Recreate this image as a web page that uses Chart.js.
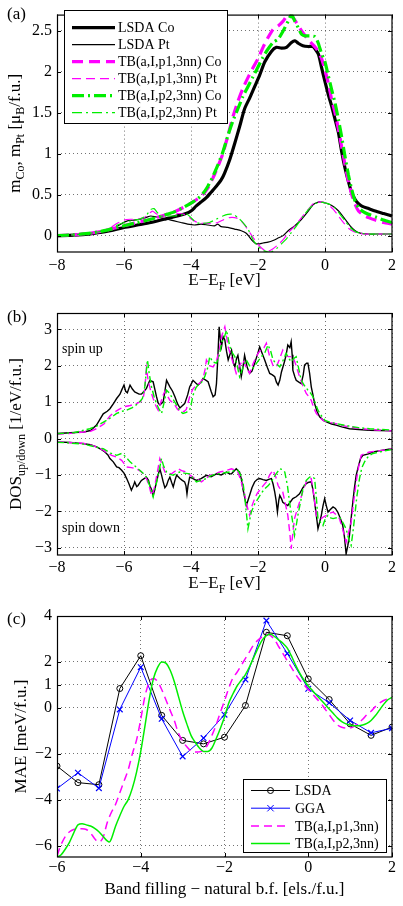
<!DOCTYPE html>
<html>
<head>
<meta charset="utf-8">
<script src="https://cdn.jsdelivr.net/npm/chart.js@4.4.1/dist/chart.umd.min.js"></script>
<style>
  body { margin: 0; background: #fff; }
  canvas { position: absolute; left: 0; }
</style>
</head>
<body>
<canvas id="momentChart" width="403" height="295" style="top:0px"></canvas>
<canvas id="dosChart" width="403" height="305" style="top:295px"></canvas>
<canvas id="maeChart" width="403" height="306" style="top:600px"></canvas>
<script>
// ---- tick labels ----
const xTicksE = [-8, -6, -4, -2, 0, 2];
const yTicksMoment = [0, 0.5, 1, 1.5, 2, 2.5];
const yTicksDos = [-3, -2, -1, 0, 1, 2, 3];
const xTicksBand = [-6, -4, -2, 0, 2];
const yTicksMae = [-6, -4, -2, 0, 1, 2, 4];

// ---- (a) magnetic moments, [E-EF, m] ----
const lsdaCo = [[-8,0],[-7.5,0.005],[-7,0.02],[-6.7,0.04],[-6.3,0.07],[-6,0.1],[-5.6,0.13],[-5.2,0.16],[-4.8,0.2],[-4.5,0.23],[-4.15,0.27],[-4,0.3],[-3.85,0.36],[-3.7,0.41],[-3.55,0.46],[-3.4,0.53],[-3.25,0.6],[-3.1,0.68],[-3,0.76],[-2.85,0.92],[-2.7,1.12],[-2.55,1.33],[-2.4,1.55],[-2.25,1.68],[-2.1,1.82],[-1.95,1.96],[-1.8,2.12],[-1.6,2.25],[-1.45,2.3],[-1.3,2.29],[-1.15,2.3],[-1,2.36],[-0.9,2.38],[-0.8,2.35],[-0.66,2.32],[-0.5,2.31],[-0.36,2.31],[-0.2,2.22],[-0.1,2.05],[0,1.88],[0.1,1.72],[0.2,1.58],[0.3,1.42],[0.4,1.26],[0.5,1.02],[0.6,0.82],[0.7,0.66],[0.8,0.52],[0.9,0.44],[1,0.39],[1.1,0.36],[1.3,0.33],[1.5,0.3],[1.75,0.27],[2,0.24]];
const lsdaPt = [[-8,0],[-7.5,0.005],[-7,0.02],[-6.7,0.04],[-6.5,0.06],[-6.3,0.09],[-6.1,0.14],[-5.9,0.18],[-5.7,0.19],[-5.5,0.2],[-5.35,0.22],[-5.2,0.24],[-5.05,0.23],[-4.9,0.22],[-4.7,0.2],[-4.5,0.18],[-4.3,0.16],[-4.1,0.14],[-3.9,0.13],[-3.7,0.14],[-3.5,0.13],[-3.3,0.12],[-3.2,0.14],[-3.1,0.11],[-2.9,0.1],[-2.7,0.08],[-2.5,0.06],[-2.35,0.03],[-2.25,-0.02],[-2.15,-0.07],[-2.05,-0.1],[-1.95,-0.1],[-1.85,-0.09],[-1.7,-0.08],[-1.55,-0.06],[-1.4,-0.03],[-1.25,0],[-1.1,0.06],[-0.9,0.12],[-0.7,0.2],[-0.5,0.3],[-0.35,0.38],[-0.2,0.41],[-0.1,0.41],[0,0.4],[0.15,0.38],[0.3,0.34],[0.45,0.28],[0.6,0.2],[0.75,0.12],[0.9,0.06],[1.05,0.03],[1.3,0.02],[1.6,0.02],[2,0.02]];
const tb1Co = [[-8,0],[-7.5,0.01],[-7,0.03],[-6.7,0.05],[-6.3,0.09],[-6,0.12],[-5.6,0.16],[-5.2,0.2],[-4.8,0.25],[-4.5,0.29],[-4.2,0.35],[-3.95,0.41],[-3.8,0.45],[-3.65,0.5],[-3.5,0.58],[-3.35,0.7],[-3.2,0.84],[-3.05,1],[-2.9,1.22],[-2.75,1.45],[-2.6,1.64],[-2.45,1.8],[-2.3,1.93],[-2.15,2.05],[-2,2.16],[-1.85,2.3],[-1.7,2.42],[-1.55,2.52],[-1.4,2.56],[-1.25,2.62],[-1.1,2.7],[-0.95,2.66],[-0.85,2.6],[-0.7,2.5],[-0.55,2.42],[-0.4,2.35],[-0.25,2.28],[-0.1,2.16],[0,2.02],[0.1,1.86],[0.2,1.66],[0.3,1.5],[0.4,1.3],[0.5,1.08],[0.6,0.86],[0.7,0.66],[0.8,0.5],[0.9,0.38],[1,0.3],[1.15,0.25],[1.3,0.22],[1.5,0.19],[1.75,0.16],[2,0.14]];
const tb1Pt = [[-8,0],[-7.5,0.01],[-7,0.03],[-6.7,0.05],[-6.4,0.1],[-6.2,0.15],[-6,0.19],[-5.8,0.2],[-5.6,0.2],[-5.4,0.22],[-5.25,0.27],[-5.15,0.3],[-5.05,0.27],[-4.95,0.25],[-4.8,0.25],[-4.6,0.26],[-4.4,0.27],[-4.2,0.26],[-4.05,0.22],[-3.9,0.18],[-3.75,0.15],[-3.6,0.15],[-3.4,0.15],[-3.2,0.16],[-3,0.2],[-2.85,0.22],[-2.7,0.22],[-2.55,0.2],[-2.4,0.13],[-2.25,0.04],[-2.1,-0.05],[-1.95,-0.13],[-1.8,-0.18],[-1.7,-0.19],[-1.55,-0.16],[-1.4,-0.11],[-1.25,-0.05],[-1.1,0.03],[-0.9,0.12],[-0.7,0.22],[-0.5,0.32],[-0.35,0.39],[-0.2,0.41],[-0.05,0.41],[0.1,0.38],[0.25,0.32],[0.4,0.24],[0.55,0.16],[0.7,0.09],[0.85,0.05],[1,0.03],[1.2,0.02],[1.5,0.02],[2,0.02]];
const tb2Co = [[-8,0],[-7.5,0.01],[-7,0.03],[-6.7,0.05],[-6.3,0.09],[-6,0.12],[-5.6,0.16],[-5.2,0.2],[-4.8,0.25],[-4.5,0.29],[-4.2,0.35],[-3.95,0.41],[-3.8,0.45],[-3.65,0.51],[-3.5,0.6],[-3.35,0.72],[-3.2,0.86],[-3.05,1.02],[-2.9,1.22],[-2.75,1.4],[-2.6,1.55],[-2.45,1.7],[-2.3,1.82],[-2.15,1.94],[-2,2.06],[-1.85,2.18],[-1.7,2.28],[-1.55,2.36],[-1.4,2.4],[-1.25,2.5],[-1.1,2.62],[-1,2.7],[-0.9,2.62],[-0.8,2.54],[-0.7,2.46],[-0.6,2.44],[-0.45,2.44],[-0.3,2.43],[-0.2,2.35],[-0.1,2.22],[0,2.12],[0.1,1.95],[0.2,1.78],[0.3,1.62],[0.4,1.42],[0.5,1.2],[0.6,0.96],[0.7,0.74],[0.8,0.56],[0.9,0.42],[1,0.34],[1.15,0.29],[1.3,0.26],[1.5,0.23],[1.75,0.19],[2,0.16]];
const tb2Pt = [[-8,0],[-7.5,0.01],[-7,0.03],[-6.7,0.05],[-6.4,0.09],[-6.2,0.13],[-6,0.16],[-5.8,0.18],[-5.55,0.2],[-5.35,0.24],[-5.2,0.32],[-5.1,0.33],[-5,0.28],[-4.9,0.24],[-4.7,0.24],[-4.5,0.24],[-4.3,0.25],[-4.15,0.27],[-4,0.22],[-3.85,0.16],[-3.65,0.15],[-3.45,0.16],[-3.25,0.2],[-3.05,0.24],[-2.9,0.26],[-2.75,0.26],[-2.6,0.22],[-2.45,0.16],[-2.3,0.08],[-2.15,-0.05],[-2,-0.13],[-1.85,-0.18],[-1.7,-0.2],[-1.6,-0.2],[-1.45,-0.16],[-1.3,-0.1],[-1.15,-0.04],[-1,0.04],[-0.85,0.12],[-0.65,0.24],[-0.45,0.34],[-0.3,0.39],[-0.15,0.41],[0,0.4],[0.15,0.38],[0.3,0.34],[0.45,0.26],[0.6,0.18],[0.75,0.1],[0.9,0.05],[1.05,0.03],[1.3,0.02],[1.6,0.02],[2,0.02]];

// ---- (b) DOS, [E-EF, DOS] ----
const upLsda = [[-8,0.14],[-7.6,0.16],[-7.2,0.18],[-7,0.22],[-6.82,0.37],[-6.62,0.68],[-6.5,0.75],[-6.42,0.82],[-6.3,0.98],[-6.22,1.1],[-6.12,1.22],[-6.07,1.33],[-6,1.47],[-5.95,1.3],[-5.9,1.26],[-5.82,1.47],[-5.75,1.36],[-5.68,1.28],[-5.55,1.22],[-5.48,1.22],[-5.4,1.3],[-5.33,1.38],[-5.23,1.6],[-5.13,1.56],[-5.03,1.15],[-4.98,0.98],[-4.93,0.92],[-4.83,1.01],[-4.78,1.3],[-4.73,1.6],[-4.63,1.42],[-4.55,1.3],[-4.48,1.15],[-4.4,0.95],[-4.33,0.84],[-4.19,0.96],[-4.1,1.2],[-4.04,1.42],[-3.94,1.6],[-3.85,1.52],[-3.79,1.47],[-3.7,1.55],[-3.64,1.65],[-3.55,1.6],[-3.49,1.56],[-3.4,1.3],[-3.34,1.15],[-3.28,1.2],[-3.24,1.51],[-3.2,2.2],[-3.16,3.07],[-3.12,2.7],[-3.09,2.52],[-3.04,2.8],[-2.99,2.71],[-2.94,2.4],[-2.89,2.16],[-2.84,2.3],[-2.79,2.43],[-2.74,2.1],[-2.69,1.97],[-2.64,2.2],[-2.6,2.29],[-2.55,2],[-2.5,1.7],[-2.45,1.95],[-2.4,2.29],[-2.32,1.95],[-2.25,1.79],[-2.18,1.85],[-2.1,2.07],[-2.02,2.3],[-1.95,2.52],[-1.88,2.35],[-1.8,2.16],[-1.72,1.95],[-1.65,1.79],[-1.57,1.75],[-1.5,1.7],[-1.45,1.55],[-1.4,1.47],[-1.35,1.6],[-1.3,1.83],[-1.21,2.11],[-1.16,2.3],[-1.11,2.57],[-1.05,2.5],[-1.01,2.66],[-0.98,2.3],[-0.96,1.88],[-0.9,1.7],[-0.86,1.6],[-0.78,1.55],[-0.71,1.51],[-0.65,1.75],[-0.61,2.02],[-0.55,2.07],[-0.51,2.07],[-0.46,1.8],[-0.41,1.42],[-0.36,1.2],[-0.31,0.96],[-0.24,0.75],[-0.16,0.6],[-0.05,0.5],[0.04,0.46],[0.2,0.4],[0.33,0.37],[0.5,0.32],[0.73,0.27],[1,0.25],[1.33,0.23],[1.65,0.22],[2,0.21]];
const upTb1 = [[-8,0.12],[-7.5,0.15],[-7,0.2],[-6.8,0.28],[-6.6,0.4],[-6.42,0.62],[-6.3,0.72],[-6.15,0.8],[-6.02,0.87],[-5.85,0.9],[-5.63,0.96],[-5.5,1.02],[-5.43,1.1],[-5.38,1.35],[-5.33,1.93],[-5.28,1.6],[-5.2,1.3],[-5.13,1.1],[-5.05,0.9],[-4.98,0.78],[-4.9,1],[-4.83,1.2],[-4.78,1.3],[-4.72,1.2],[-4.63,1.05],[-4.5,0.95],[-4.4,0.8],[-4.29,0.73],[-4.2,0.75],[-4.14,0.8],[-4.04,1.15],[-3.95,1.35],[-3.84,1.47],[-3.74,1.52],[-3.64,1.65],[-3.58,1.9],[-3.54,2.16],[-3.45,2],[-3.34,1.97],[-3.25,2.1],[-3.15,2.45],[-3.09,2.8],[-2.99,3.07],[-2.94,2.8],[-2.89,2.52],[-2.82,2.3],[-2.74,2.07],[-2.65,1.79],[-2.55,2],[-2.45,2.16],[-2.35,1.95],[-2.25,1.79],[-2.15,2.05],[-2,2.34],[-1.9,2.45],[-1.82,2.5],[-1.75,2.62],[-1.65,2.25],[-1.55,2],[-1.45,1.97],[-1.35,2.2],[-1.26,2.43],[-1.18,2.3],[-1.1,2.25],[-0.96,2.25],[-0.86,2],[-0.76,1.7],[-0.66,1.45],[-0.56,1.24],[-0.48,1.15],[-0.41,1.05],[-0.34,0.85],[-0.26,0.69],[-0.16,0.58],[-0.06,0.5],[0.1,0.45],[0.33,0.41],[0.5,0.36],[0.73,0.32],[1,0.28],[1.33,0.25],[1.65,0.23],[2,0.21]];
const upTb2 = [[-8,0.13],[-7.5,0.16],[-7.02,0.27],[-6.8,0.35],[-6.52,0.5],[-6.35,0.6],[-6.22,0.69],[-6.05,0.75],[-5.92,0.78],[-5.75,0.85],[-5.58,0.96],[-5.45,1.1],[-5.38,1.42],[-5.3,2.16],[-5.25,1.8],[-5.18,1.42],[-5.1,1.15],[-5.03,0.96],[-4.95,0.8],[-4.88,0.69],[-4.8,1],[-4.73,1.33],[-4.65,1.25],[-4.58,1.15],[-4.45,0.95],[-4.33,0.75],[-4.24,0.69],[-4.14,0.72],[-4.04,0.78],[-3.98,1],[-3.94,1.19],[-3.85,1.4],[-3.79,1.47],[-3.68,1.55],[-3.59,1.7],[-3.5,1.95],[-3.44,2.25],[-3.34,2.1],[-3.24,2.07],[-3.15,2.3],[-3.09,2.62],[-3,2.8],[-2.94,2.98],[-2.89,2.75],[-2.84,2.52],[-2.76,2.35],[-2.69,2.25],[-2.62,2],[-2.55,1.7],[-2.45,1.95],[-2.35,2.16],[-2.25,2],[-2.15,1.93],[-2.02,2.1],[-1.9,2.25],[-1.8,2.35],[-1.7,2.57],[-1.62,2.4],[-1.55,2.16],[-1.45,2.05],[-1.35,1.97],[-1.25,2.15],[-1.16,2.34],[-1.08,2.2],[-1.01,2.11],[-0.93,2.2],[-0.86,2.25],[-0.78,1.9],[-0.71,1.6],[-0.61,1.45],[-0.51,1.33],[-0.43,1.25],[-0.36,1.15],[-0.28,0.95],[-0.21,0.78],[-0.1,0.62],[0,0.5],[0.15,0.45],[0.33,0.41],[0.5,0.38],[0.73,0.34],[1,0.3],[1.33,0.27],[1.65,0.25],[2,0.23]];
const downLsda = [[-8,-0.09],[-7.6,-0.11],[-7.22,-0.14],[-7,-0.17],[-6.82,-0.23],[-6.68,-0.3],[-6.57,-0.37],[-6.48,-0.45],[-6.42,-0.55],[-6.32,-0.64],[-6.22,-0.78],[-6.15,-0.8],[-6.07,-0.87],[-6,-0.95],[-5.92,-1.1],[-5.85,-1.25],[-5.78,-1.42],[-5.72,-1.3],[-5.68,-1.19],[-5.62,-1.32],[-5.58,-1.29],[-5.53,-1.22],[-5.48,-1.15],[-5.4,-1.1],[-5.33,-1.06],[-5.27,-1.15],[-5.23,-1.29],[-5.17,-1.42],[-5.13,-1.56],[-5.08,-1.4],[-5.03,-1.19],[-4.98,-1],[-4.93,-0.83],[-4.88,-1],[-4.83,-1.19],[-4.78,-1.35],[-4.73,-1.29],[-4.68,-1.15],[-4.63,-1.06],[-4.58,-1.2],[-4.53,-1.33],[-4.48,-1.15],[-4.43,-1.01],[-4.38,-1.05],[-4.33,-1.1],[-4.26,-1.15],[-4.19,-1.19],[-4.15,-1.3],[-4.12,-1.52],[-4.09,-1.3],[-4.04,-1.06],[-3.94,-1.1],[-3.84,-1.15],[-3.7,-1.1],[-3.54,-1.01],[-3.4,-1.05],[-3.24,-0.97],[-3.1,-1],[-2.94,-0.92],[-2.85,-0.97],[-2.79,-0.97],[-2.72,-0.9],[-2.65,-0.83],[-2.6,-0.88],[-2.55,-0.92],[-2.5,-1.1],[-2.45,-1.38],[-2.4,-1.6],[-2.35,-1.84],[-2.3,-1.7],[-2.25,-1.56],[-2.18,-1.35],[-2.1,-1.19],[-2.02,-1.12],[-1.95,-1.1],[-1.85,-1.13],[-1.75,-1.15],[-1.68,-1.12],[-1.6,-1.1],[-1.55,-1.25],[-1.5,-1.47],[-1.46,-1.7],[-1.42,-2.02],[-1.38,-1.7],[-1.35,-1.56],[-1.3,-1.65],[-1.26,-1.75],[-1.18,-1.8],[-1.11,-1.84],[-1.04,-1.75],[-0.96,-1.65],[-0.86,-1.6],[-0.76,-1.52],[-0.66,-1.35],[-0.56,-1.24],[-0.48,-1.2],[-0.41,-1.19],[-0.36,-1.4],[-0.31,-1.75],[-0.26,-2.1],[-0.21,-2.48],[-0.16,-2.3],[-0.11,-2.11],[-0.06,-1.85],[-0.01,-1.65],[0.04,-1.85],[0.09,-2.02],[0.16,-1.95],[0.24,-1.88],[0.31,-1.92],[0.38,-2.02],[0.46,-2.2],[0.53,-2.39],[0.58,-2.7],[0.63,-3.17],[0.68,-2.95],[0.73,-2.66],[0.78,-2.2],[0.83,-1.75],[0.88,-1.35],[0.93,-1.01],[1,-0.75],[1.06,-0.55],[1.13,-0.46],[1.3,-0.42],[1.43,-0.37],[1.6,-0.34],[1.73,-0.32],[2,-0.28]];
const downTb1 = [[-8,-0.09],[-7.22,-0.13],[-6.9,-0.2],[-6.62,-0.32],[-6.45,-0.42],[-6.37,-0.46],[-6.22,-0.51],[-6.07,-0.6],[-5.92,-0.78],[-5.78,-0.8],[-5.63,-0.83],[-5.5,-0.9],[-5.43,-0.97],[-5.33,-1.1],[-5.25,-1.3],[-5.18,-1.56],[-5.12,-1.45],[-5.08,-1.29],[-5,-0.9],[-4.93,-0.55],[-4.87,-0.7],[-4.78,-0.92],[-4.68,-0.95],[-4.58,-0.97],[-4.48,-0.9],[-4.39,-0.83],[-4.28,-0.88],[-4.14,-0.92],[-4.04,-1],[-3.94,-1.06],[-3.8,-1.12],[-3.69,-1.19],[-3.55,-1.1],[-3.44,-1.01],[-3.3,-0.97],[-3.14,-0.92],[-2.95,-0.88],[-2.79,-0.83],[-2.7,-0.86],[-2.6,-0.92],[-2.5,-1.19],[-2.42,-1.45],[-2.35,-1.75],[-2.3,-1.95],[-2.25,-2.11],[-2.18,-1.85],[-2.1,-1.65],[-2.02,-1.5],[-1.95,-1.42],[-1.85,-1.3],[-1.75,-1.19],[-1.65,-1],[-1.55,-0.87],[-1.47,-1.05],[-1.4,-1.29],[-1.33,-1.4],[-1.26,-1.47],[-1.18,-1.8],[-1.11,-2.11],[-1.05,-2.6],[-1.01,-3.03],[-0.96,-2.6],[-0.91,-2.2],[-0.83,-1.95],[-0.76,-1.75],[-0.66,-1.45],[-0.56,-1.19],[-0.48,-1.12],[-0.41,-1.1],[-0.34,-1.5],[-0.26,-2.11],[-0.18,-2.2],[-0.11,-2.2],[-0.04,-2.15],[0.04,-2.11],[0.14,-2.05],[0.24,-2.02],[0.34,-2.1],[0.43,-2.2],[0.53,-2.5],[0.63,-2.85],[0.7,-2.6],[0.78,-2.3],[0.86,-1.7],[0.93,-1.19],[1,-0.8],[1.08,-0.46],[1.2,-0.4],[1.33,-0.37],[1.73,-0.32],[2,-0.28]];
const downTb2 = [[-8,-0.1],[-7.22,-0.15],[-6.9,-0.22],[-6.62,-0.28],[-6.4,-0.4],[-6.22,-0.46],[-6.07,-0.41],[-5.95,-0.5],[-5.82,-0.64],[-5.68,-0.75],[-5.53,-0.87],[-5.43,-0.95],[-5.33,-1.06],[-5.23,-1.3],[-5.13,-1.61],[-5.05,-1.3],[-4.98,-1.01],[-4.88,-0.55],[-4.82,-0.75],[-4.73,-0.92],[-4.63,-0.98],[-4.53,-1.01],[-4.43,-0.95],[-4.33,-0.92],[-4.2,-0.95],[-4.04,-0.97],[-3.94,-1.08],[-3.84,-1.19],[-3.7,-1.15],[-3.54,-1.1],[-3.4,-1.02],[-3.24,-0.97],[-3.05,-0.95],[-2.84,-0.92],[-2.7,-0.88],[-2.6,-0.87],[-2.52,-1],[-2.45,-1.19],[-2.4,-1.55],[-2.35,-2.02],[-2.3,-2.48],[-2.25,-2.25],[-2.2,-2.02],[-2.1,-1.8],[-2,-1.65],[-1.9,-1.5],[-1.8,-1.38],[-1.7,-1.3],[-1.6,-1.19],[-1.48,-1],[-1.35,-0.83],[-1.28,-0.85],[-1.2,-0.92],[-1.12,-1.3],[-1.06,-1.75],[-0.98,-2.2],[-0.91,-2.66],[-0.86,-2.4],[-0.81,-2.11],[-0.72,-1.7],[-0.66,-1.38],[-0.56,-1.15],[-0.46,-1.06],[-0.38,-1.05],[-0.31,-1.1],[-0.26,-1.6],[-0.21,-2.2],[-0.14,-2.3],[-0.06,-2.39],[0.01,-2.2],[0.09,-2.11],[0.17,-2.18],[0.24,-2.2],[0.33,-2.18],[0.43,-2.16],[0.53,-2.3],[0.63,-2.48],[0.72,-2.8],[0.78,-2.94],[0.83,-2.6],[0.88,-2.2],[0.95,-1.6],[1.03,-1.1],[1.1,-0.8],[1.18,-0.64],[1.3,-0.48],[1.43,-0.41],[1.73,-0.35],[2,-0.3]];

// ---- (c) MAE vs band filling ----
const bandFill = [-6, -5.5, -5, -4.5, -4, -3.5, -3, -2.5, -2, -1.5, -1, -0.5, 0, 0.5, 1, 1.5, 2];
const maeLsda = [-2.54, -3.26, -3.35, 0.84, 2.27, -0.33, -1.42, -1.57, -1.28, 0.1, 3.29, 3.14, 1.26, 0.36, -0.7, -1.2, -0.84];
const maeGga = [-3.52, -2.83, -3.5, -0.07, 1.77, -0.48, -2.12, -1.32, -0.3, 1.23, 3.8, 2.37, 0.83, 0.22, -0.55, -1.09, -0.89];
const maeTb1 = [[-6,-6.45],[-5.9,-5.95],[-5.8,-5.6],[-5.7,-5.4],[-5.6,-5.3],[-5.5,-5.27],[-5.4,-5.27],[-5.3,-5.3],[-5.2,-5.45],[-5.1,-5.7],[-5,-5.85],[-4.9,-5.65],[-4.8,-5.0],[-4.7,-4.55],[-4.6,-4.2],[-4.5,-3.7],[-4.4,-3.2],[-4.3,-2.7],[-4.2,-2.0],[-4.1,-1.4],[-4,-0.5],[-3.9,0.5],[-3.8,1.1],[-3.7,1.28],[-3.6,1.15],[-3.5,0.8],[-3.4,0.35],[-3.3,-0.1],[-3.2,-0.55],[-3.1,-1.1],[-3,-1.45],[-2.9,-1.7],[-2.8,-1.88],[-2.7,-1.93],[-2.6,-1.92],[-2.5,-1.85],[-2.4,-1.6],[-2.3,-1.2],[-2.2,-0.75],[-2.1,-0.2],[-2,0.3],[-1.9,0.85],[-1.8,1.3],[-1.7,1.55],[-1.6,1.85],[-1.5,2.15],[-1.4,2.45],[-1.3,2.75],[-1.2,2.95],[-1.1,3.1],[-1,3.2],[-0.9,3.15],[-0.8,2.95],[-0.7,2.65],[-0.6,2.35],[-0.5,2.05],[-0.4,1.75],[-0.3,1.45],[-0.2,1.2],[-0.1,1.0],[0,0.8],[0.1,0.6],[0.2,0.4],[0.3,0.2],[0.4,-0.05],[0.5,-0.3],[0.6,-0.55],[0.7,-0.75],[0.8,-0.85],[0.9,-0.88],[1,-0.88],[1.1,-0.8],[1.2,-0.65],[1.3,-0.5],[1.4,-0.3],[1.5,-0.15],[1.6,0.05],[1.7,0.2],[1.8,0.32],[1.9,0.38],[2,0.38]];
const maeTb2 = [[-6,-6.5],[-5.9,-6.4],[-5.8,-6.15],[-5.7,-5.85],[-5.6,-5.45],[-5.5,-5.1],[-5.4,-5.05],[-5.3,-5.1],[-5.2,-5.15],[-5.1,-5.25],[-5,-5.4],[-4.9,-5.6],[-4.8,-5.8],[-4.75,-5.85],[-4.7,-5.7],[-4.6,-5.15],[-4.5,-4.7],[-4.4,-4.3],[-4.3,-4.0],[-4.2,-3.5],[-4.1,-2.8],[-4,-1.9],[-3.9,-0.8],[-3.8,0.35],[-3.7,1.25],[-3.6,1.75],[-3.5,2.0],[-3.4,1.95],[-3.3,1.65],[-3.2,1.15],[-3.1,0.5],[-3,-0.15],[-2.9,-0.7],[-2.8,-1.2],[-2.7,-1.5],[-2.6,-1.75],[-2.5,-1.9],[-2.4,-1.9],[-2.3,-1.75],[-2.2,-1.35],[-2.1,-0.9],[-2,-0.4],[-1.9,0.2],[-1.8,0.6],[-1.7,0.95],[-1.6,1.2],[-1.5,1.45],[-1.4,1.8],[-1.3,2.2],[-1.2,2.6],[-1.1,2.95],[-1,3.15],[-0.9,3.2],[-0.8,3.1],[-0.7,2.95],[-0.6,2.8],[-0.5,2.6],[-0.4,2.25],[-0.3,1.85],[-0.2,1.5],[-0.1,1.2],[0,0.95],[0.1,0.75],[0.2,0.55],[0.3,0.35],[0.4,0.15],[0.5,-0.05],[0.6,-0.25],[0.7,-0.45],[0.8,-0.6],[0.9,-0.7],[1,-0.75],[1.1,-0.78],[1.2,-0.78],[1.3,-0.75],[1.4,-0.68],[1.5,-0.55],[1.6,-0.35],[1.7,-0.1],[1.8,0.15],[1.9,0.35],[2,0.45]];

const FONT = "'Liberation Serif', 'Times New Roman', serif";
Chart.defaults.font.family = FONT;
Chart.defaults.font.size = 16;
Chart.defaults.color = '#000';

const pts = arr => arr.map(([x, y]) => ({ x, y }));
const fmt = v => String(v).replace('-', '\u2212');

// text with subscripts: parts = [[text, isSub], ...]
function drawRich(ctx, parts, x, y, rotate) {
  const big = '17px ' + FONT, small = '12px ' + FONT;
  let w = 0;
  parts.forEach(([t, sub]) => { ctx.font = sub ? small : big; w += ctx.measureText(t).width; });
  ctx.save();
  ctx.translate(x, y);
  if (rotate) ctx.rotate(-Math.PI / 2);
  ctx.fillStyle = '#000';
  ctx.textAlign = 'left';
  ctx.textBaseline = 'alphabetic';
  let cx = -w / 2;
  parts.forEach(([t, sub]) => {
    ctx.font = sub ? small : big;
    ctx.fillText(t, cx, sub ? 4.5 : 0);
    cx += ctx.measureText(t).width;
  });
  ctx.restore();
}

function drawLegend(chart, L) {
  const ctx = chart.ctx;
  ctx.fillStyle = '#fff';
  ctx.fillRect(L.x, L.y, L.w, L.h);
  ctx.strokeStyle = '#000';
  ctx.lineWidth = 1;
  ctx.setLineDash([]);
  ctx.strokeRect(L.x + 0.5, L.y + 0.5, L.w, L.h);
  ctx.font = '14px ' + FONT;
  ctx.textBaseline = 'middle';
  ctx.textAlign = 'left';
  chart.data.datasets.forEach((ds, i) => {
    const y = L.y0 + i * L.dy;
    ctx.strokeStyle = ds.borderColor;
    ctx.lineWidth = ds.borderWidth;
    ctx.setLineDash(ds.borderDash || []);
    ctx.beginPath();
    ctx.moveTo(L.x1, y);
    ctx.lineTo(L.x2, y);
    ctx.stroke();
    ctx.setLineDash([]);
    const mx = (L.x1 + L.x2) / 2;
    ctx.lineWidth = 1;
    if (ds.pointStyle === 'circle') {
      ctx.beginPath();
      ctx.arc(mx, y, ds.pointRadius, 0, Math.PI * 2);
      ctx.stroke();
    } else if (ds.pointStyle === 'crossRot') {
      const r = ds.pointRadius * 0.8;
      ctx.beginPath();
      ctx.moveTo(mx - r, y - r); ctx.lineTo(mx + r, y + r);
      ctx.moveTo(mx - r, y + r); ctx.lineTo(mx + r, y - r);
      ctx.stroke();
    }
    ctx.fillStyle = '#000';
    ctx.fillText(ds.label, L.tx, y + 1);
  });
}

// frame, inward ticks, titles, labels, legend
const decor = {
  id: 'decor',
  afterDraw(chart, args, o) {
    const { ctx, chartArea: a, scales } = chart;
    ctx.save();
    ctx.strokeStyle = '#000';
    ctx.lineWidth = 1;
    ctx.setLineDash([]);
    ctx.beginPath();
    scales.x.ticks.forEach(t => {
      const px = Math.round(scales.x.getPixelForValue(t.value)) + 0.5;
      ctx.moveTo(px, a.top); ctx.lineTo(px, a.top + 4);
      ctx.moveTo(px, a.bottom); ctx.lineTo(px, a.bottom - 4);
    });
    scales.y.ticks.forEach(t => {
      const py = Math.round(scales.y.getPixelForValue(t.value)) + 0.5;
      ctx.moveTo(a.left, py); ctx.lineTo(a.left + 4, py);
      ctx.moveTo(a.right, py); ctx.lineTo(a.right - 4, py);
    });
    ctx.stroke();
    ctx.lineWidth = 1.2;
    ctx.strokeRect(a.left + 0.5, a.top + 0.5, a.right - a.left - 0.5, a.bottom - a.top - 0.5);
    if (o.legend) drawLegend(chart, o.legend);
    drawRich(ctx, o.xTitle, (a.left + a.right) / 2, o.xTitleY, false);
    drawRich(ctx, o.yTitle, o.yTitleX, (a.top + a.bottom) / 2, true);
    ctx.fillStyle = '#000';
    ctx.textAlign = 'left';
    ctx.textBaseline = 'alphabetic';
    ctx.font = '17px ' + FONT;
    ctx.fillText(o.panel, 7, o.panelY);
    (o.notes || []).forEach(n => {
      ctx.font = '14px ' + FONT;
      ctx.fillText(n.text, n.x, n.y);
    });
    ctx.restore();
  }
};

function axes(xMin, xMax, xTicks, yMin, yMax, yTicks, xHeight, xPad) {
  const grid = { color: 'rgba(0,0,0,0.55)', lineWidth: 1, drawTicks: false };
  const border = { display: false, dash: [1, 3] };
  return {
    x: {
      type: 'linear', min: xMin, max: xMax,
      afterBuildTicks: s => { s.ticks = xTicks.map(v => ({ value: v })); },
      afterFit: s => { s.height = xHeight; },
      ticks: { padding: xPad, callback: fmt, autoSkip: false, maxRotation: 0 },
      grid, border
    },
    y: {
      type: 'linear', min: yMin, max: yMax,
      afterBuildTicks: s => { s.ticks = yTicks.map(v => ({ value: v })); },
      afterFit: s => { s.width = 57; },
      ticks: { padding: 5, callback: fmt, autoSkip: false },
      grid, border
    }
  };
}

const baseOpts = {
  responsive: false,
  animation: false,
  events: [],
  elements: { point: { radius: 0 } }
};

// (a) moments
new Chart(document.getElementById('momentChart'), {
  type: 'line',
  data: {
    datasets: [
      { label: 'LSDA Co', data: pts(lsdaCo), borderColor: '#000', borderWidth: 3.2, tension: 0.2, order: 6 },
      { label: 'LSDA Pt', data: pts(lsdaPt), borderColor: '#000', borderWidth: 1.2, tension: 0.2, order: 5 },
      { label: 'TB(a,I,p1,3nn) Co', data: pts(tb1Co), borderColor: '#ff00ff', borderWidth: 3.2, borderDash: [11, 6], tension: 0.2, order: 4 },
      { label: 'TB(a,I,p1,3nn) Pt', data: pts(tb1Pt), borderColor: '#ff00ff', borderWidth: 1.2, borderDash: [9, 5], tension: 0.2, order: 3 },
      { label: 'TB(a,I,p2,3nn) Co', data: pts(tb2Co), borderColor: '#00ee00', borderWidth: 3.2, borderDash: [12, 4, 2, 4], tension: 0.2, order: 2 },
      { label: 'TB(a,I,p2,3nn) Pt', data: pts(tb2Pt), borderColor: '#00ee00', borderWidth: 1.2, borderDash: [10, 4, 2, 4], tension: 0.2, order: 1 }
    ]
  },
  options: {
    ...baseOpts,
    layout: { padding: { top: 10, right: 11, left: 0, bottom: 0 } },
    scales: axes(-8, 2, xTicksE, -0.2, 2.7, yTicksMoment, 43, 4.5),
    plugins: {
      legend: { display: false },
      tooltip: { enabled: false },
      decor: {
        panel: '(a)', panelY: 19,
        xTitle: [['E\u2212E', false], ['F', true], [' [eV]', false]], xTitleY: 285,
        yTitle: [['m', false], ['Co', true], [', m', false], ['Pt', true], [' [\u03bc', false], ['B', true], ['/f.u.]', false]], yTitleX: 19.5,
        legend: { x: 64, y: 10, w: 163, h: 113, y0: 27.7, dy: 17, x1: 72, x2: 115, tx: 118 }
      }
    }
  },
  plugins: [decor]
});

// (b) DOS
new Chart(document.getElementById('dosChart'), {
  type: 'line',
  data: {
    datasets: [
      { label: 'LSDA up', data: pts(upLsda), borderColor: '#000', borderWidth: 1.4, order: 6 },
      { label: 'LSDA down', data: pts(downLsda), borderColor: '#000', borderWidth: 1.4, order: 5 },
      { label: 'TB p1 up', data: pts(upTb1), borderColor: '#ff00ff', borderWidth: 1.4, borderDash: [7, 4], order: 4 },
      { label: 'TB p1 down', data: pts(downTb1), borderColor: '#ff00ff', borderWidth: 1.4, borderDash: [7, 4], order: 3 },
      { label: 'TB p2 up', data: pts(upTb2), borderColor: '#00ee00', borderWidth: 1.4, borderDash: [7, 3, 2, 3], order: 2 },
      { label: 'TB p2 down', data: pts(downTb2), borderColor: '#00ee00', borderWidth: 1.4, borderDash: [7, 3, 2, 3], order: 1 }
    ]
  },
  options: {
    ...baseOpts,
    layout: { padding: { top: 18, right: 11, left: 0, bottom: 0 } },
    scales: axes(-8, 2, xTicksE, -3.2, 3.45, yTicksDos, 45, 3),
    plugins: {
      legend: { display: false },
      tooltip: { enabled: false },
      decor: {
        panel: '(b)', panelY: 27,
        xTitle: [['E\u2212E', false], ['F', true], [' [eV]', false]], xTitleY: 293,
        yTitle: [['DOS', false], ['up/down', true], [' [1/eV/f.u.]', false]], yTitleX: 20.5,
        notes: [{ text: 'spin up', x: 62, y: 58 }, { text: 'spin down', x: 62, y: 237 }]
      }
    }
  },
  plugins: [decor]
});

// (c) MAE
new Chart(document.getElementById('maeChart'), {
  type: 'line',
  data: {
    datasets: [
      { label: 'LSDA', data: bandFill.map((x, i) => ({ x, y: maeLsda[i] })), borderColor: '#000', borderWidth: 1,
        pointStyle: 'circle', pointRadius: 3, pointBorderWidth: 1, pointBorderColor: '#000', pointBackgroundColor: 'rgba(255,255,255,0)', order: 4 },
      { label: 'GGA', data: bandFill.map((x, i) => ({ x, y: maeGga[i] })), borderColor: '#0000ff', borderWidth: 1,
        pointStyle: 'crossRot', pointRadius: 4, pointBorderWidth: 1.2, pointBorderColor: '#0000ff', order: 3 },
      { label: 'TB(a,I,p1,3nn)', data: pts(maeTb1), borderColor: '#ff00ff', borderWidth: 1.5, borderDash: [8, 5],
        cubicInterpolationMode: 'monotone', order: 2 },
      { label: 'TB(a,I,p2,3nn)', data: pts(maeTb2), borderColor: '#00ee00', borderWidth: 1.5,
        cubicInterpolationMode: 'monotone', order: 1 }
    ]
  },
  options: {
    ...baseOpts,
    layout: { padding: { top: 16, right: 11, left: 0, bottom: 0 } },
    scales: axes(-6, 2, xTicksBand, -6.5, 4, yTicksMae, 49, 1.5),
    plugins: {
      legend: { display: false },
      tooltip: { enabled: false },
      decor: {
        panel: '(c)', panelY: 24,
        xTitle: [['Band filling \u2212 natural b.f. [els./f.u.]', false]], xTitleY: 294,
        yTitle: [['MAE [meV/f.u.]', false]], yTitleX: 26,
        legend: { x: 243, y: 179, w: 143, h: 73, y0: 190.5, dy: 17.7, x1: 251, x2: 290, tx: 295 }
      }
    }
  },
  plugins: [decor]
});
</script>
</body>
</html>
